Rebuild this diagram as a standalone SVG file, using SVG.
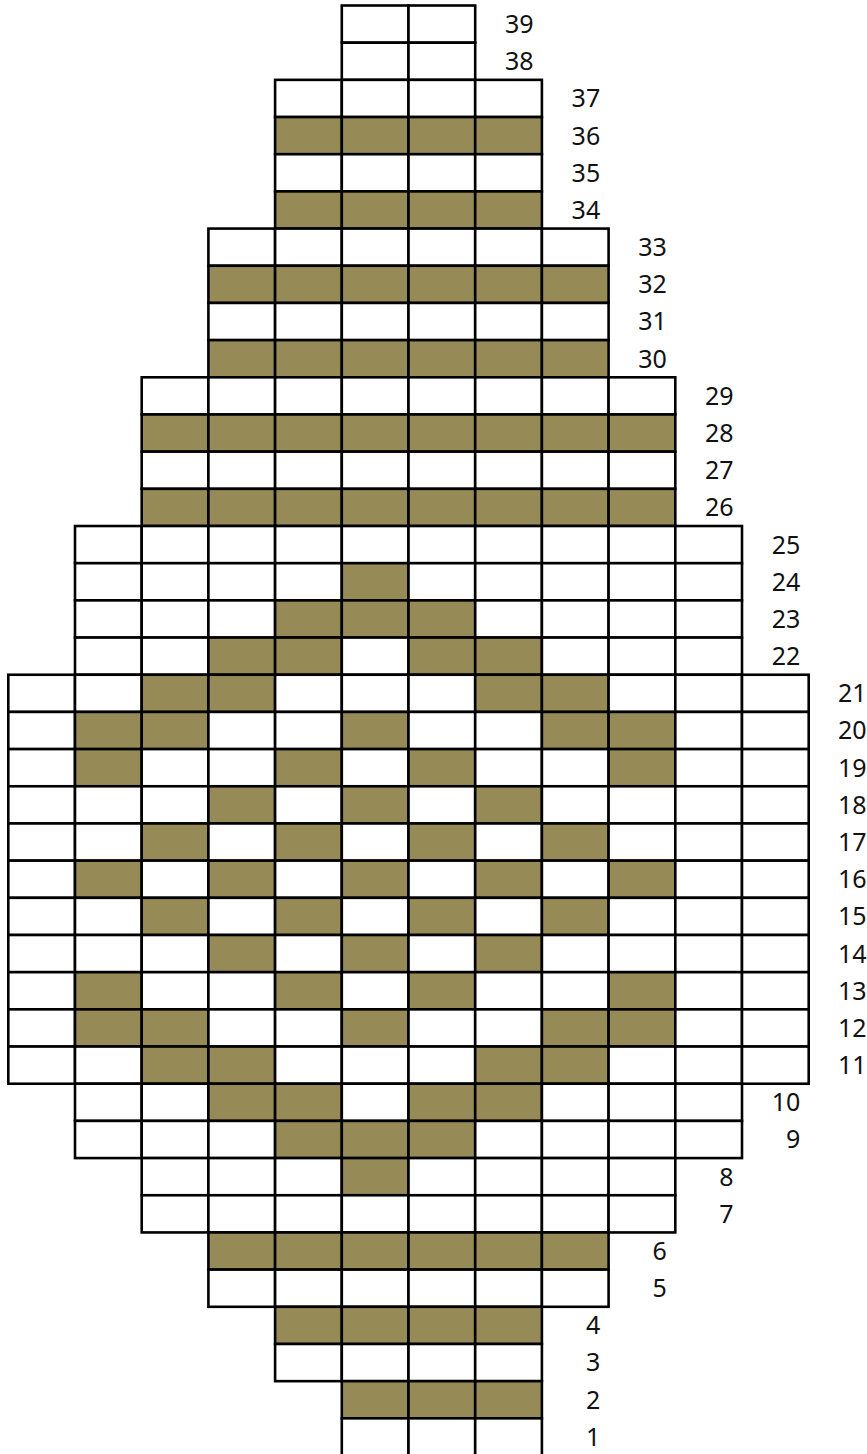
<svg xmlns="http://www.w3.org/2000/svg" xmlns:xlink="http://www.w3.org/1999/xlink" width="867" height="1454" viewBox="0 0 867 1454">
<style>
use{stroke:#000;stroke-width:2.6}
.w{fill:#fff}
.f{fill:#968B56}
text{font-family:"Noto Sans","Open Sans","DejaVu Sans",sans-serif;font-size:25px;fill:#111;text-anchor:end}
</style>
<defs><rect id="c" width="66.7" height="37.18"/></defs>
<rect width="867" height="1454" fill="#fff"/>
<g id="r39" transform="translate(0,5.5)"><use href="#c" x="341.8" class="w"/><use href="#c" x="408.5" class="w"/><text x="533.5" y="27.5">39</text></g>
<g id="r38" transform="translate(0,42.68)"><use href="#c" x="341.8" class="w"/><use href="#c" x="408.5" class="w"/><text x="533.5" y="27.5">38</text></g>
<g id="r37" transform="translate(0,79.86)"><use href="#c" x="275.1" class="w"/><use href="#c" x="341.8" class="w"/><use href="#c" x="408.5" class="w"/><use href="#c" x="475.2" class="w"/><text x="600.2" y="27.5">37</text></g>
<g id="r36" transform="translate(0,117.04)"><use href="#c" x="275.1" class="f"/><use href="#c" x="341.8" class="f"/><use href="#c" x="408.5" class="f"/><use href="#c" x="475.2" class="f"/><text x="600.2" y="27.5">36</text></g>
<g id="r35" transform="translate(0,154.22)"><use href="#c" x="275.1" class="w"/><use href="#c" x="341.8" class="w"/><use href="#c" x="408.5" class="w"/><use href="#c" x="475.2" class="w"/><text x="600.2" y="27.5">35</text></g>
<g id="r34" transform="translate(0,191.4)"><use href="#c" x="275.1" class="f"/><use href="#c" x="341.8" class="f"/><use href="#c" x="408.5" class="f"/><use href="#c" x="475.2" class="f"/><text x="600.2" y="27.5">34</text></g>
<g id="r33" transform="translate(0,228.58)"><use href="#c" x="208.4" class="w"/><use href="#c" x="275.1" class="w"/><use href="#c" x="341.8" class="w"/><use href="#c" x="408.5" class="w"/><use href="#c" x="475.2" class="w"/><use href="#c" x="541.9" class="w"/><text x="666.9" y="27.5">33</text></g>
<g id="r32" transform="translate(0,265.76)"><use href="#c" x="208.4" class="f"/><use href="#c" x="275.1" class="f"/><use href="#c" x="341.8" class="f"/><use href="#c" x="408.5" class="f"/><use href="#c" x="475.2" class="f"/><use href="#c" x="541.9" class="f"/><text x="666.9" y="27.5">32</text></g>
<g id="r31" transform="translate(0,302.94)"><use href="#c" x="208.4" class="w"/><use href="#c" x="275.1" class="w"/><use href="#c" x="341.8" class="w"/><use href="#c" x="408.5" class="w"/><use href="#c" x="475.2" class="w"/><use href="#c" x="541.9" class="w"/><text x="666.9" y="27.5">31</text></g>
<g id="r30" transform="translate(0,340.12)"><use href="#c" x="208.4" class="f"/><use href="#c" x="275.1" class="f"/><use href="#c" x="341.8" class="f"/><use href="#c" x="408.5" class="f"/><use href="#c" x="475.2" class="f"/><use href="#c" x="541.9" class="f"/><text x="666.9" y="27.5">30</text></g>
<g id="r29" transform="translate(0,377.3)"><use href="#c" x="141.7" class="w"/><use href="#c" x="208.4" class="w"/><use href="#c" x="275.1" class="w"/><use href="#c" x="341.8" class="w"/><use href="#c" x="408.5" class="w"/><use href="#c" x="475.2" class="w"/><use href="#c" x="541.9" class="w"/><use href="#c" x="608.6" class="w"/><text x="733.6" y="27.5">29</text></g>
<g id="r28" transform="translate(0,414.48)"><use href="#c" x="141.7" class="f"/><use href="#c" x="208.4" class="f"/><use href="#c" x="275.1" class="f"/><use href="#c" x="341.8" class="f"/><use href="#c" x="408.5" class="f"/><use href="#c" x="475.2" class="f"/><use href="#c" x="541.9" class="f"/><use href="#c" x="608.6" class="f"/><text x="733.6" y="27.5">28</text></g>
<g id="r27" transform="translate(0,451.66)"><use href="#c" x="141.7" class="w"/><use href="#c" x="208.4" class="w"/><use href="#c" x="275.1" class="w"/><use href="#c" x="341.8" class="w"/><use href="#c" x="408.5" class="w"/><use href="#c" x="475.2" class="w"/><use href="#c" x="541.9" class="w"/><use href="#c" x="608.6" class="w"/><text x="733.6" y="27.5">27</text></g>
<g id="r26" transform="translate(0,488.84)"><use href="#c" x="141.7" class="f"/><use href="#c" x="208.4" class="f"/><use href="#c" x="275.1" class="f"/><use href="#c" x="341.8" class="f"/><use href="#c" x="408.5" class="f"/><use href="#c" x="475.2" class="f"/><use href="#c" x="541.9" class="f"/><use href="#c" x="608.6" class="f"/><text x="733.6" y="27.5">26</text></g>
<g id="r25" transform="translate(0,526.02)"><use href="#c" x="75" class="w"/><use href="#c" x="141.7" class="w"/><use href="#c" x="208.4" class="w"/><use href="#c" x="275.1" class="w"/><use href="#c" x="341.8" class="w"/><use href="#c" x="408.5" class="w"/><use href="#c" x="475.2" class="w"/><use href="#c" x="541.9" class="w"/><use href="#c" x="608.6" class="w"/><use href="#c" x="675.3" class="w"/><text x="800.3" y="27.5">25</text></g>
<g id="r24" transform="translate(0,563.2)"><use href="#c" x="75" class="w"/><use href="#c" x="141.7" class="w"/><use href="#c" x="208.4" class="w"/><use href="#c" x="275.1" class="w"/><use href="#c" x="341.8" class="f"/><use href="#c" x="408.5" class="w"/><use href="#c" x="475.2" class="w"/><use href="#c" x="541.9" class="w"/><use href="#c" x="608.6" class="w"/><use href="#c" x="675.3" class="w"/><text x="800.3" y="27.5">24</text></g>
<g id="r23" transform="translate(0,600.38)"><use href="#c" x="75" class="w"/><use href="#c" x="141.7" class="w"/><use href="#c" x="208.4" class="w"/><use href="#c" x="275.1" class="f"/><use href="#c" x="341.8" class="f"/><use href="#c" x="408.5" class="f"/><use href="#c" x="475.2" class="w"/><use href="#c" x="541.9" class="w"/><use href="#c" x="608.6" class="w"/><use href="#c" x="675.3" class="w"/><text x="800.3" y="27.5">23</text></g>
<g id="r22" transform="translate(0,637.56)"><use href="#c" x="75" class="w"/><use href="#c" x="141.7" class="w"/><use href="#c" x="208.4" class="f"/><use href="#c" x="275.1" class="f"/><use href="#c" x="341.8" class="w"/><use href="#c" x="408.5" class="f"/><use href="#c" x="475.2" class="f"/><use href="#c" x="541.9" class="w"/><use href="#c" x="608.6" class="w"/><use href="#c" x="675.3" class="w"/><text x="800.3" y="27.5">22</text></g>
<g id="r21" transform="translate(0,674.74)"><use href="#c" x="8.3" class="w"/><use href="#c" x="75" class="w"/><use href="#c" x="141.7" class="f"/><use href="#c" x="208.4" class="f"/><use href="#c" x="275.1" class="w"/><use href="#c" x="341.8" class="w"/><use href="#c" x="408.5" class="w"/><use href="#c" x="475.2" class="f"/><use href="#c" x="541.9" class="f"/><use href="#c" x="608.6" class="w"/><use href="#c" x="675.3" class="w"/><use href="#c" x="742" class="w"/><text x="866.5" y="27.5">21</text></g>
<g id="r20" transform="translate(0,711.92)"><use href="#c" x="8.3" class="w"/><use href="#c" x="75" class="f"/><use href="#c" x="141.7" class="f"/><use href="#c" x="208.4" class="w"/><use href="#c" x="275.1" class="w"/><use href="#c" x="341.8" class="f"/><use href="#c" x="408.5" class="w"/><use href="#c" x="475.2" class="w"/><use href="#c" x="541.9" class="f"/><use href="#c" x="608.6" class="f"/><use href="#c" x="675.3" class="w"/><use href="#c" x="742" class="w"/><text x="866.5" y="27.5">20</text></g>
<g id="r19" transform="translate(0,749.1)"><use href="#c" x="8.3" class="w"/><use href="#c" x="75" class="f"/><use href="#c" x="141.7" class="w"/><use href="#c" x="208.4" class="w"/><use href="#c" x="275.1" class="f"/><use href="#c" x="341.8" class="w"/><use href="#c" x="408.5" class="f"/><use href="#c" x="475.2" class="w"/><use href="#c" x="541.9" class="w"/><use href="#c" x="608.6" class="f"/><use href="#c" x="675.3" class="w"/><use href="#c" x="742" class="w"/><text x="866.5" y="27.5">19</text></g>
<g id="r18" transform="translate(0,786.28)"><use href="#c" x="8.3" class="w"/><use href="#c" x="75" class="w"/><use href="#c" x="141.7" class="w"/><use href="#c" x="208.4" class="f"/><use href="#c" x="275.1" class="w"/><use href="#c" x="341.8" class="f"/><use href="#c" x="408.5" class="w"/><use href="#c" x="475.2" class="f"/><use href="#c" x="541.9" class="w"/><use href="#c" x="608.6" class="w"/><use href="#c" x="675.3" class="w"/><use href="#c" x="742" class="w"/><text x="866.5" y="27.5">18</text></g>
<g id="r17" transform="translate(0,823.46)"><use href="#c" x="8.3" class="w"/><use href="#c" x="75" class="w"/><use href="#c" x="141.7" class="f"/><use href="#c" x="208.4" class="w"/><use href="#c" x="275.1" class="f"/><use href="#c" x="341.8" class="w"/><use href="#c" x="408.5" class="f"/><use href="#c" x="475.2" class="w"/><use href="#c" x="541.9" class="f"/><use href="#c" x="608.6" class="w"/><use href="#c" x="675.3" class="w"/><use href="#c" x="742" class="w"/><text x="866.5" y="27.5">17</text></g>
<g id="r16" transform="translate(0,860.64)"><use href="#c" x="8.3" class="w"/><use href="#c" x="75" class="f"/><use href="#c" x="141.7" class="w"/><use href="#c" x="208.4" class="f"/><use href="#c" x="275.1" class="w"/><use href="#c" x="341.8" class="f"/><use href="#c" x="408.5" class="w"/><use href="#c" x="475.2" class="f"/><use href="#c" x="541.9" class="w"/><use href="#c" x="608.6" class="f"/><use href="#c" x="675.3" class="w"/><use href="#c" x="742" class="w"/><text x="866.5" y="27.5">16</text></g>
<g id="r15" transform="translate(0,897.82)"><use href="#c" x="8.3" class="w"/><use href="#c" x="75" class="w"/><use href="#c" x="141.7" class="f"/><use href="#c" x="208.4" class="w"/><use href="#c" x="275.1" class="f"/><use href="#c" x="341.8" class="w"/><use href="#c" x="408.5" class="f"/><use href="#c" x="475.2" class="w"/><use href="#c" x="541.9" class="f"/><use href="#c" x="608.6" class="w"/><use href="#c" x="675.3" class="w"/><use href="#c" x="742" class="w"/><text x="866.5" y="27.5">15</text></g>
<g id="r14" transform="translate(0,935)"><use href="#c" x="8.3" class="w"/><use href="#c" x="75" class="w"/><use href="#c" x="141.7" class="w"/><use href="#c" x="208.4" class="f"/><use href="#c" x="275.1" class="w"/><use href="#c" x="341.8" class="f"/><use href="#c" x="408.5" class="w"/><use href="#c" x="475.2" class="f"/><use href="#c" x="541.9" class="w"/><use href="#c" x="608.6" class="w"/><use href="#c" x="675.3" class="w"/><use href="#c" x="742" class="w"/><text x="866.5" y="27.5">14</text></g>
<g id="r13" transform="translate(0,972.18)"><use href="#c" x="8.3" class="w"/><use href="#c" x="75" class="f"/><use href="#c" x="141.7" class="w"/><use href="#c" x="208.4" class="w"/><use href="#c" x="275.1" class="f"/><use href="#c" x="341.8" class="w"/><use href="#c" x="408.5" class="f"/><use href="#c" x="475.2" class="w"/><use href="#c" x="541.9" class="w"/><use href="#c" x="608.6" class="f"/><use href="#c" x="675.3" class="w"/><use href="#c" x="742" class="w"/><text x="866.5" y="27.5">13</text></g>
<g id="r12" transform="translate(0,1009.36)"><use href="#c" x="8.3" class="w"/><use href="#c" x="75" class="f"/><use href="#c" x="141.7" class="f"/><use href="#c" x="208.4" class="w"/><use href="#c" x="275.1" class="w"/><use href="#c" x="341.8" class="f"/><use href="#c" x="408.5" class="w"/><use href="#c" x="475.2" class="w"/><use href="#c" x="541.9" class="f"/><use href="#c" x="608.6" class="f"/><use href="#c" x="675.3" class="w"/><use href="#c" x="742" class="w"/><text x="866.5" y="27.5">12</text></g>
<g id="r11" transform="translate(0,1046.54)"><use href="#c" x="8.3" class="w"/><use href="#c" x="75" class="w"/><use href="#c" x="141.7" class="f"/><use href="#c" x="208.4" class="f"/><use href="#c" x="275.1" class="w"/><use href="#c" x="341.8" class="w"/><use href="#c" x="408.5" class="w"/><use href="#c" x="475.2" class="f"/><use href="#c" x="541.9" class="f"/><use href="#c" x="608.6" class="w"/><use href="#c" x="675.3" class="w"/><use href="#c" x="742" class="w"/><text x="866.5" y="27.5">11</text></g>
<g id="r10" transform="translate(0,1083.72)"><use href="#c" x="75" class="w"/><use href="#c" x="141.7" class="w"/><use href="#c" x="208.4" class="f"/><use href="#c" x="275.1" class="f"/><use href="#c" x="341.8" class="w"/><use href="#c" x="408.5" class="f"/><use href="#c" x="475.2" class="f"/><use href="#c" x="541.9" class="w"/><use href="#c" x="608.6" class="w"/><use href="#c" x="675.3" class="w"/><text x="800.3" y="27.5">10</text></g>
<g id="r9" transform="translate(0,1120.9)"><use href="#c" x="75" class="w"/><use href="#c" x="141.7" class="w"/><use href="#c" x="208.4" class="w"/><use href="#c" x="275.1" class="f"/><use href="#c" x="341.8" class="f"/><use href="#c" x="408.5" class="f"/><use href="#c" x="475.2" class="w"/><use href="#c" x="541.9" class="w"/><use href="#c" x="608.6" class="w"/><use href="#c" x="675.3" class="w"/><text x="800.3" y="27.5">9</text></g>
<g id="r8" transform="translate(0,1158.08)"><use href="#c" x="141.7" class="w"/><use href="#c" x="208.4" class="w"/><use href="#c" x="275.1" class="w"/><use href="#c" x="341.8" class="f"/><use href="#c" x="408.5" class="w"/><use href="#c" x="475.2" class="w"/><use href="#c" x="541.9" class="w"/><use href="#c" x="608.6" class="w"/><text x="733.6" y="27.5">8</text></g>
<g id="r7" transform="translate(0,1195.26)"><use href="#c" x="141.7" class="w"/><use href="#c" x="208.4" class="w"/><use href="#c" x="275.1" class="w"/><use href="#c" x="341.8" class="w"/><use href="#c" x="408.5" class="w"/><use href="#c" x="475.2" class="w"/><use href="#c" x="541.9" class="w"/><use href="#c" x="608.6" class="w"/><text x="733.6" y="27.5">7</text></g>
<g id="r6" transform="translate(0,1232.44)"><use href="#c" x="208.4" class="f"/><use href="#c" x="275.1" class="f"/><use href="#c" x="341.8" class="f"/><use href="#c" x="408.5" class="f"/><use href="#c" x="475.2" class="f"/><use href="#c" x="541.9" class="f"/><text x="666.9" y="27.5">6</text></g>
<g id="r5" transform="translate(0,1269.62)"><use href="#c" x="208.4" class="w"/><use href="#c" x="275.1" class="w"/><use href="#c" x="341.8" class="w"/><use href="#c" x="408.5" class="w"/><use href="#c" x="475.2" class="w"/><use href="#c" x="541.9" class="w"/><text x="666.9" y="27.5">5</text></g>
<g id="r4" transform="translate(0,1306.8)"><use href="#c" x="275.1" class="f"/><use href="#c" x="341.8" class="f"/><use href="#c" x="408.5" class="f"/><use href="#c" x="475.2" class="f"/><text x="600.2" y="27.5">4</text></g>
<g id="r3" transform="translate(0,1343.98)"><use href="#c" x="275.1" class="w"/><use href="#c" x="341.8" class="w"/><use href="#c" x="408.5" class="w"/><use href="#c" x="475.2" class="w"/><text x="600.2" y="27.5">3</text></g>
<g id="r2" transform="translate(0,1381.16)"><use href="#c" x="341.8" class="f"/><use href="#c" x="408.5" class="f"/><use href="#c" x="475.2" class="f"/><text x="600.2" y="27.5">2</text></g>
<g id="r1" transform="translate(0,1418.34)"><use href="#c" x="341.8" class="w"/><use href="#c" x="408.5" class="w"/><use href="#c" x="475.2" class="w"/><text x="600.2" y="27.5">1</text></g>
</svg>
